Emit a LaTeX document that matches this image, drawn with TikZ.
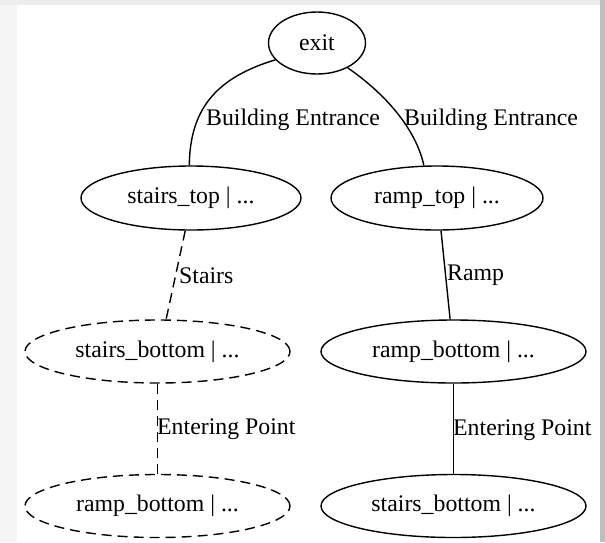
\documentclass[tikz,border=0pt]{standalone}
\usepackage{fontspec}
\setmainfont{Liberation Serif}
\usetikzlibrary{shapes.geometric}
\begin{document}
\begin{tikzpicture}[x=1pt,y=-1pt,
  every node/.style={font=\fontsize{23.8}{28}\selectfont},
  nd/.style={ellipse,draw=black,line width=1.4pt,inner sep=0pt},
  nsmall/.style={nd,minimum width=97pt,minimum height=62pt},
  nmid/.style={nd,minimum width=216pt,minimum height=64pt},
  nbig/.style={nd,minimum width=265pt,minimum height=63pt},
  dsh/.style={dash pattern=on 10pt off 6pt},
  edge/.style={draw=black,line width=1.4pt},
  lbl/.style={anchor=west,inner sep=0pt}]
\useasboundingbox (0,0) rectangle (605,542);
\fill[black!7] (0,0) rectangle (605,542);
\fill[black!4] (0,5) rectangle (17,542);
\fill[black!25] (600,0) rectangle (605,542);
\fill[white] (17,5) rectangle (600,542);

\node[nsmall] (exit) at (317,43) {exit};
\node[nmid,minimum width=220pt] (stairstop) at (191,198) {stairs\_top | ...};
\node[nmid,minimum width=212pt] (ramptop) at (437,198) {ramp\_top | ...};
\node[nbig,dsh] (stairsbottomL) at (157.5,351.5) {stairs\_bottom | ...};
\node[nbig] (rampbottomR) at (453.5,351.5) {ramp\_bottom | ...};
\node[nbig,dsh] (rampbottomL) at (157.5,506) {ramp\_bottom | ...};
\node[nbig] (stairsbottomR) at (453.5,506) {stairs\_bottom | ...};

\draw[edge] (exit.202) .. controls (215,78) and (190,110) .. (stairstop.93);
\draw[edge] (exit.-39) .. controls (380,90) and (415,125) .. (ramptop.112);
\draw[edge,dsh] (stairstop.-100) -- (stairsbottomL.75);
\draw[edge] (ramptop.-83) -- (rampbottomR.96);
\draw[edge,dsh] (stairsbottomL.south) -- (rampbottomL.north);
\draw[edge] (rampbottomR.south) -- (stairsbottomR.north);

\node[lbl] (l1) at (206,120) {Building Entrance};
\node[lbl] (l2) at (404,120) {Building Entrance};
\node[lbl] (l3) at (179,276) {Stairs};
\node[lbl] (l4) at (447,275) {Ramp};
\node[lbl] (l5) at (157,429) {Entering Point};
\node[lbl] (l6) at (453,430) {Entering Point};
\end{tikzpicture}
\end{document}
